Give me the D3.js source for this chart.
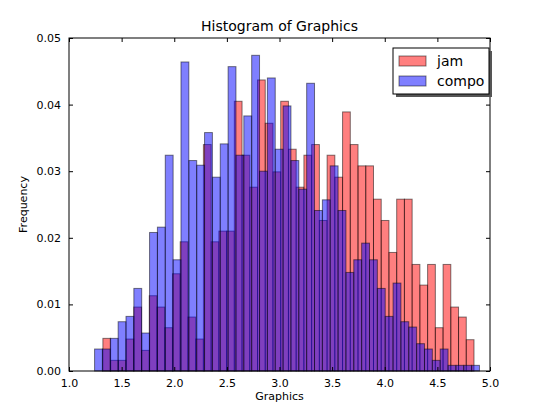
<!DOCTYPE html>
<html>
<head>
<meta charset="utf-8">
<script src="https://cdn.jsdelivr.net/npm/d3@7"></script>
<style>
  body { margin: 0; background: #fff; }
  text { font-family: "DejaVu Sans", sans-serif; }
</style>
</head>
<body>
<svg id="chart" width="550" height="412"></svg>
<script>
// histogram heights (frequency)
const jamStart = 1.322, jamEnd = 4.848;
const jam = [4.9, 1.6, 1.6, 4.8, 9.6, 3.1, 11.3, 9.6, 6.5, 14.6, 19.4, 8.1, 4.8,
  34.0, 19.4, 21.0, 21.0, 40.5, 32.4, 27.6, 43.7, 37.2, 29.9, 40.5, 33.3, 27.6,
  32.4, 34.0, 22.6, 32.4, 29.1, 38.9, 34.0, 30.8, 30.8, 25.8, 22.6, 17.8, 25.8,
  25.8, 16.0, 12.9, 16.0, 6.5, 16.0, 9.6, 8.1, 4.7].map(v => v / 1000);
const compoStart = 1.243, compoEnd = 4.90;
const compo = [3.3, 3.3, 4.9, 7.4, 8.2, 12.4, 5.7, 20.8, 21.6, 32.4, 16.7, 46.4,
  31.6, 30.9, 35.8, 29.1, 34.1, 45.7, 32.4, 38.3, 47.4, 30.0, 44.0, 33.3, 39.8,
  31.6, 27.3, 43.2, 24.1, 25.7, 30.8, 24.1, 14.8, 16.7, 19.2, 16.7, 12.4, 8.2,
  13.2, 7.4, 6.6, 4.1, 3.3, 1.6, 3.3, 0.85, 0.85, 0.85, 0.85].map(v => v / 1000);
const xTicks = [1.0, 1.5, 2.0, 2.5, 3.0, 3.5, 4.0, 4.5, 5.0];
const yTicks = [0, 0.01, 0.02, 0.03, 0.04, 0.05];

const mLeft = 69, mRight = 490, mTop = 38, mBottom = 371;
const svg = d3.select("#chart");
const x = d3.scaleLinear().domain([1, 5]).range([mLeft, mRight]);
const y = d3.scaleLinear().domain([0, 0.05]).range([mBottom, mTop]);

function bars(vals, start, end, color) {
  const w = (end - start) / vals.length;
  svg.append("g").selectAll("rect").data(vals).join("rect")
    .attr("x", (d, i) => x(start + i * w))
    .attr("width", (d, i) => x(start + (i + 1) * w) - x(start + i * w))
    .attr("y", d => y(d))
    .attr("height", d => y(0) - y(d))
    .attr("fill", color).attr("fill-opacity", 0.5)
    .attr("stroke", "#000").attr("stroke-opacity", 0.5).attr("stroke-width", 1);
}
bars(jam, jamStart, jamEnd, "#ff0000");
bars(compo, compoStart, compoEnd, "#0000ff");

// frame
svg.append("rect").attr("x", mLeft).attr("y", mTop)
  .attr("width", mRight - mLeft).attr("height", mBottom - mTop)
  .attr("fill", "none").attr("stroke", "#000");

// ticks inward on all sides
const xb = d3.axisBottom(x).tickValues(xTicks).tickFormat(d3.format(".1f")).tickSizeInner(-4).tickSizeOuter(0).tickPadding(8);
const gx = svg.append("g").attr("transform", `translate(0,${mBottom})`).call(xb);
const xt = d3.axisTop(x).tickValues(xTicks).tickFormat("").tickSizeInner(-4).tickSizeOuter(0);
const gxt = svg.append("g").attr("transform", `translate(0,${mTop})`).call(xt);
const yl = d3.axisLeft(y).tickValues(yTicks).tickFormat(d3.format(".2f")).tickSizeInner(-4).tickSizeOuter(0).tickPadding(8);
const gy = svg.append("g").attr("transform", `translate(${mLeft},0)`).call(yl);
const yr = d3.axisRight(y).tickValues(yTicks).tickFormat("").tickSizeInner(-4).tickSizeOuter(0);
const gyr = svg.append("g").attr("transform", `translate(${mRight},0)`).call(yr);
[gx, gxt, gy, gyr].forEach(g => {
  g.select(".domain").remove();
  g.selectAll("text").attr("font-size", 11).attr("fill", "#000").attr("font-family", "DejaVu Sans");
});

svg.append("text").attr("x", (mLeft + mRight) / 2).attr("y", 31)
  .attr("text-anchor", "middle").attr("font-size", 14).text("Histogram of Graphics");
svg.append("text").attr("x", (mLeft + mRight) / 2).attr("y", 400)
  .attr("text-anchor", "middle").attr("font-size", 11).text("Graphics");
svg.append("text").attr("transform", `translate(27,${(mTop + mBottom) / 2}) rotate(-90)`)
  .attr("text-anchor", "middle").attr("font-size", 11).text("Frequency");

// legend
const lg = svg.append("g");
lg.append("rect").attr("x", 396).attr("y", 51).attr("width", 96).attr("height", 46).attr("fill", "#555");
lg.append("rect").attr("x", 393).attr("y", 48).attr("width", 96).attr("height", 46)
  .attr("fill", "#fff").attr("stroke", "#000");
const items = [["jam", "#ff0000"], ["compo", "#0000ff"]];
items.forEach(([name, c], i) => {
  lg.append("rect").attr("x", 399).attr("y", 56 + i * 20).attr("width", 27).attr("height", 10)
    .attr("fill", c).attr("fill-opacity", 0.5).attr("stroke", "#000").attr("stroke-opacity", 0.5);
  lg.append("text").attr("x", 437).attr("y", 66 + i * 20).attr("font-size", 14).text(name);
});
</script>
</body>
</html>
